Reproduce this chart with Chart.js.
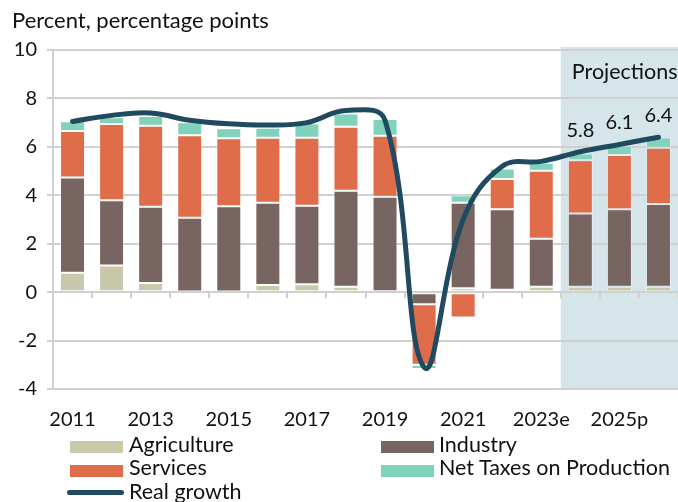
<!DOCTYPE html>
<html>
<head>
<meta charset="utf-8">
<script src="https://cdn.jsdelivr.net/npm/chart.js@4.4.1/dist/chart.umd.min.js"></script>
<style>
  html, body { margin: 0; padding: 0; background: #fff; }
  #wrap { position: relative; width: 678px; height: 502px; overflow: hidden; font-family: Lato, "Open Sans", sans-serif; }
  #c { position: absolute; left: 0; top: 0; }
  .lg-box { position: absolute; width: 53px; height: 12px; }
  .lg-line { position: absolute; width: 57px; height: 5px; border-radius: 3px; }
  .lg-text { position: absolute; font-size: 21.5px; line-height: 24px; color: #111; white-space: nowrap; }
</style>
</head>
<body>
<div id="wrap">
  <canvas id="c" width="678" height="502"></canvas>
  <div id="legend"></div>
</div>
<script>
// ---- data ----
const categories = ['2011','2012','2013','2014','2015','2016','2017','2018','2019','2020','2021','2022','2023e','2024p','2025p','2026p'];
const tickLabels = ['2011','','2013','','2015','','2017','','2019','','2021','','2023e','','2025p',''];
const agriculture = [0.80, 1.10, 0.38, 0.03, 0.03, 0.29, 0.33, 0.22, -0.10, 0.12, 0.16, 0.10, 0.22, 0.22, 0.22, 0.22];
const industry    = [3.93, 2.70, 3.15, 3.04, 3.52, 3.40, 3.24, 3.97, 3.94, -0.50, 3.53, 3.32, 1.98, 3.03, 3.20, 3.42];
const services    = [1.93, 3.14, 3.34, 3.41, 2.81, 2.69, 2.81, 2.64, 2.52, -2.50, -1.05, 1.25, 2.81, 2.20, 2.24, 2.32];
const netTaxes    = [0.40, 0.28, 0.40, 0.54, 0.41, 0.41, 0.59, 0.55, 0.69, -0.17, 0.31, 0.44, 0.33, 0.28, 0.39, 0.43];
const realGrowth  = [7.05, 7.3, 7.4, 7.1, 6.95, 6.9, 7.0, 7.5, 7.1, -3.1, 3.0, 5.2, 5.4, 5.8, 6.1, 6.4];
const labeledPoints = [13, 14, 15]; // indices whose growth value is printed
const projectionStart = 13;          // first projected category
const yTicks = { min: -4, max: 10, step: 2 };

const COLORS = {
  agriculture: '#c9c8a8',
  industry: '#786561',
  services: '#e06d4a',
  taxes: '#80d2bb',
  growth: '#1f4a60',
  grid: '#d0d0d0',
  shade: '#d5e5ea',
  text: '#111111'
};
const FONT = 'Lato, "Open Sans", sans-serif';

const barCommon = { type: 'bar', stack: 'gdp', order: 1, borderWidth: 1, borderColor: 'rgba(255,255,255,0.35)', borderSkipped: false, categoryPercentage: 1.0, barPercentage: 0.64 };

const datasets = [
  Object.assign({ label: 'Agriculture', data: agriculture, backgroundColor: COLORS.agriculture }, barCommon),
  Object.assign({ label: 'Industry', data: industry, backgroundColor: COLORS.industry }, barCommon),
  Object.assign({ label: 'Services', data: services, backgroundColor: COLORS.services }, barCommon),
  Object.assign({ label: 'Net Taxes on Production', data: netTaxes, backgroundColor: COLORS.taxes }, barCommon),
  { type: 'line', label: 'Real growth', data: realGrowth, stack: 'line', order: 0, borderColor: COLORS.growth, borderWidth: 5,
    pointRadius: 0, tension: 0.4, fill: false, borderCapStyle: 'round', borderJoinStyle: 'round' }
];

const decorPlugin = {
  id: 'decor',
  beforeDraw(chart) {
    const { ctx, chartArea, scales } = chart;
    const x = scales.x;
    const xs = (x.getPixelForValue(projectionStart - 1) + x.getPixelForValue(projectionStart)) / 2;
    ctx.save();
    ctx.fillStyle = COLORS.shade;
    ctx.fillRect(xs, chartArea.top - 3, chartArea.right - xs, chartArea.bottom - chartArea.top + 3);
    ctx.restore();
  },
  beforeDatasetsDraw(chart) {
    const { ctx, scales } = chart;
    const x = scales.x, y = scales.y;
    const y0 = y.getPixelForValue(0);
    const half = (x.getPixelForValue(1) - x.getPixelForValue(0)) / 2;
    ctx.save();
    ctx.strokeStyle = COLORS.grid;
    ctx.lineWidth = 2;
    for (let i = 0; i < categories.length; i++) {
      const bx = Math.round(x.getPixelForValue(i) + half);
      ctx.beginPath();
      ctx.moveTo(bx, y0);
      ctx.lineTo(bx, y0 + 6);
      ctx.stroke();
    }
    ctx.restore();
  },
  afterDatasetsDraw(chart) {
    const { ctx, chartArea, scales } = chart;
    const x = scales.x;
    const meta = chart.getDatasetMeta(4);
    ctx.save();
    ctx.fillStyle = COLORS.text;
    ctx.font = '20px ' + FONT;
    ctx.textAlign = 'center';
    ctx.textBaseline = 'alphabetic';
    labeledPoints.forEach(i => {
      const p = meta.data[i];
      ctx.fillText(realGrowth[i].toFixed(1), p.x, p.y - 15);
    });
    const xs = (x.getPixelForValue(projectionStart - 1) + x.getPixelForValue(projectionStart)) / 2;
    ctx.textAlign = 'left';
    ctx.font = '21.5px ' + FONT;
    ctx.fillText('Projections', xs + 11, chartArea.top + 29);
    ctx.restore();
  }
};

const chart = new Chart(document.getElementById('c'), {
  data: { labels: categories, datasets },
  plugins: [decorPlugin],
  options: {
    responsive: false,
    animation: false,
    devicePixelRatio: 1,
    layout: { padding: { left: 12, right: 0, top: 0, bottom: 0 } },
    plugins: {
      legend: { display: false },
      tooltip: { enabled: false },
      title: {
        display: true, text: 'Percent, percentage points', align: 'start', color: COLORS.text,
        font: { family: FONT, size: 22, weight: 'normal', lineHeight: 1.2 },
        padding: { top: 8, bottom: 15.6 }
      }
    },
    scales: {
      x: {
        stacked: true,
        offset: true,
        grid: { display: false, drawTicks: false },
        border: { display: false },
        ticks: {
          autoSkip: false, maxRotation: 0, minRotation: 0, padding: 19, color: COLORS.text,
          font: { family: FONT, size: 20 },
          callback: (v, i) => tickLabels[i]
        },
        afterFit: s => { s.height = 113; }
      },
      y: {
        stacked: true,
        min: yTicks.min, max: yTicks.max,
        grid: { color: COLORS.grid, lineWidth: 2, tickLength: 6 },
        border: { color: COLORS.grid, width: 2 },
        ticks: { stepSize: yTicks.step, padding: 10, color: COLORS.text, font: { family: FONT, size: 20 } },
        afterFit: s => { s.width = 41; }
      }
    }
  }
});

// ---- HTML legend (built from the dataset labels/colours) ----
const legendItems = [
  { ds: 0, col: 0, row: 0 }, { ds: 1, col: 1, row: 0 },
  { ds: 2, col: 0, row: 1 }, { ds: 3, col: 1, row: 1 },
  { ds: 4, col: 0, row: 2 }
];
const colX = [70, 381], textX = [129, 439], rowTop = [431.5, 455, 478.5];
const lg = document.getElementById('legend');
legendItems.forEach(it => {
  const d = datasets[it.ds];
  const sw = document.createElement('div');
  if (d.type === 'line') {
    sw.className = 'lg-line';
    sw.style.left = (colX[it.col] - 3) + 'px';
    sw.style.top = (rowTop[it.row] + 11.5) + 'px';
    sw.style.background = d.borderColor;
  } else {
    sw.className = 'lg-box';
    sw.style.left = colX[it.col] + 'px';
    sw.style.top = (rowTop[it.row] + 9.5) + 'px';
    sw.style.background = d.backgroundColor;
  }
  lg.appendChild(sw);
  const t = document.createElement('div');
  t.className = 'lg-text';
  t.style.left = textX[it.col] + 'px';
  t.style.top = rowTop[it.row] + 'px';
  t.textContent = d.label;
  lg.appendChild(t);
});
</script>
</body>
</html>
